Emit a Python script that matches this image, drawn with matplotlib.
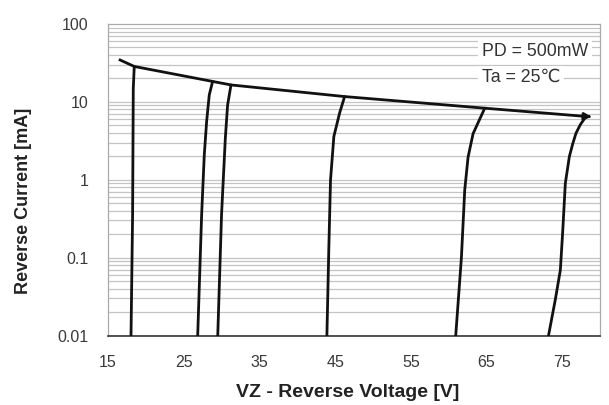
import matplotlib
matplotlib.use("Agg")
import matplotlib.pyplot as plt
import numpy as np

# Zener curves: (voltage, current mA)
c1_v = [18.04, 18.25, 18.34, 18.47]
c1_i = [0.01, 0.35, 15.0, 28.5]
c2_v = [26.85, 27.37, 27.72, 28.03, 28.38, 28.82]
c2_i = [0.01, 0.355, 2.08, 5.6, 12.3, 18.3]
c3_v = [29.5, 30.0, 30.5, 30.8, 31.25]
c3_i = [0.01, 0.355, 3.4, 9.1, 16.5]
c4_v = [43.92, 44.18, 44.4, 44.84, 45.6, 46.26]
c4_i = [0.01, 0.14, 1.0, 3.6, 7.2, 11.7]
c5_v = [60.94, 61.69, 62.13, 62.57, 63.23, 64.77]
c5_i = [0.01, 0.10, 0.74, 1.95, 3.9, 8.3]
c6_v = [73.2, 74.1, 74.76, 75.06, 75.42, 75.95, 76.4, 76.83, 77.4, 78.15]
c6_i = [0.01, 0.029, 0.069, 0.206, 0.90, 1.98, 2.9, 3.96, 5.1, 6.5]

# power limit envelope
env_v = [16.6, 18.47, 28.82, 31.25, 46.26, 64.77, 78.15, 79.25]
env_i = [34.5, 28.5, 18.3, 16.5, 11.7, 8.3, 6.5, 6.4]

x_ticks = [15, 25, 35, 45, 55, 65, 75]
y_ticks = [0.01, 0.1, 1, 10, 100]
y_tick_labels = ["0.01", "0.1", "1", "10", "100"]

plt.rcParams['font.family'] = ['Liberation Sans', 'DejaVu Sans']

fig = plt.figure(figsize=(6.09, 4.05), dpi=100)
ax = fig.add_axes([108/609, 1-335.5/405, (600-108)/609, (335.5-24)/405])

ax.set_yscale('log')
ax.set_xlim(15, 80)
ax.set_ylim(0.01, 100)

# horizontal grid at every decade subdivision
for dec in [0.01, 0.1, 1, 10]:
    for m in range(1, 10):
        ax.axhline(dec*m, color='#c4c4c4', lw=0.9, zorder=1)

lw = 2.0
for v, i in [(c1_v, c1_i), (c2_v, c2_i), (c3_v, c3_i), (c4_v, c4_i), (c5_v, c5_i), (c6_v, c6_i)]:
    ax.plot(v, i, color='#111111', lw=lw, zorder=3, solid_capstyle='round', solid_joinstyle='round')
ax.plot(env_v[:-1], env_i[:-1], color='#111111', lw=lw, zorder=3, solid_joinstyle='round')
ax.annotate('', xy=(env_v[-1], env_i[-1]), xytext=(env_v[-2], env_i[-2]),
            arrowprops=dict(arrowstyle='-|>', color='#111111', lw=lw, mutation_scale=10),
            zorder=4)

ax.set_xticks(x_ticks)
ax.set_xticklabels([str(t) for t in x_ticks])
ax.set_yticks(y_ticks)
ax.set_yticklabels(y_tick_labels)
ax.yaxis.set_minor_locator(matplotlib.ticker.NullLocator())
ax.tick_params(axis='both', length=0, labelsize=11.5, colors='#3a3a3a')
ax.tick_params(axis='y', pad=14)
ax.tick_params(axis='x', pad=14)

for s in ['left', 'top', 'right']:
    ax.spines[s].set_color('#aaaaaa')
    ax.spines[s].set_linewidth(0.9)
ax.spines['bottom'].set_color('#333333')
ax.spines['bottom'].set_linewidth(1.2)

ax.set_xlabel('VZ - Reverse Voltage [V]', fontsize=14, fontweight='bold', color='#222222')
ax.set_ylabel('Reverse Current [mA]', fontsize=13, fontweight='bold', color='#222222')
ax.xaxis.set_label_coords(0.487, -0.155)
ax.yaxis.set_label_coords(-0.154, 0.432)

bbox = dict(facecolor='white', edgecolor='none', pad=2.5)
ax.text(64.4, 45, 'PD = 500mW', fontsize=12.8, color='#333333', va='center', ha='left', bbox=bbox, zorder=2)
ax.text(64.4, 20.5, 'Ta = 25℃', fontsize=12.8, color='#333333', va='center', ha='left', bbox=bbox, zorder=2,
        family=['Liberation Sans', 'DejaVu Sans'])

fig.savefig('out.png', dpi=100)
